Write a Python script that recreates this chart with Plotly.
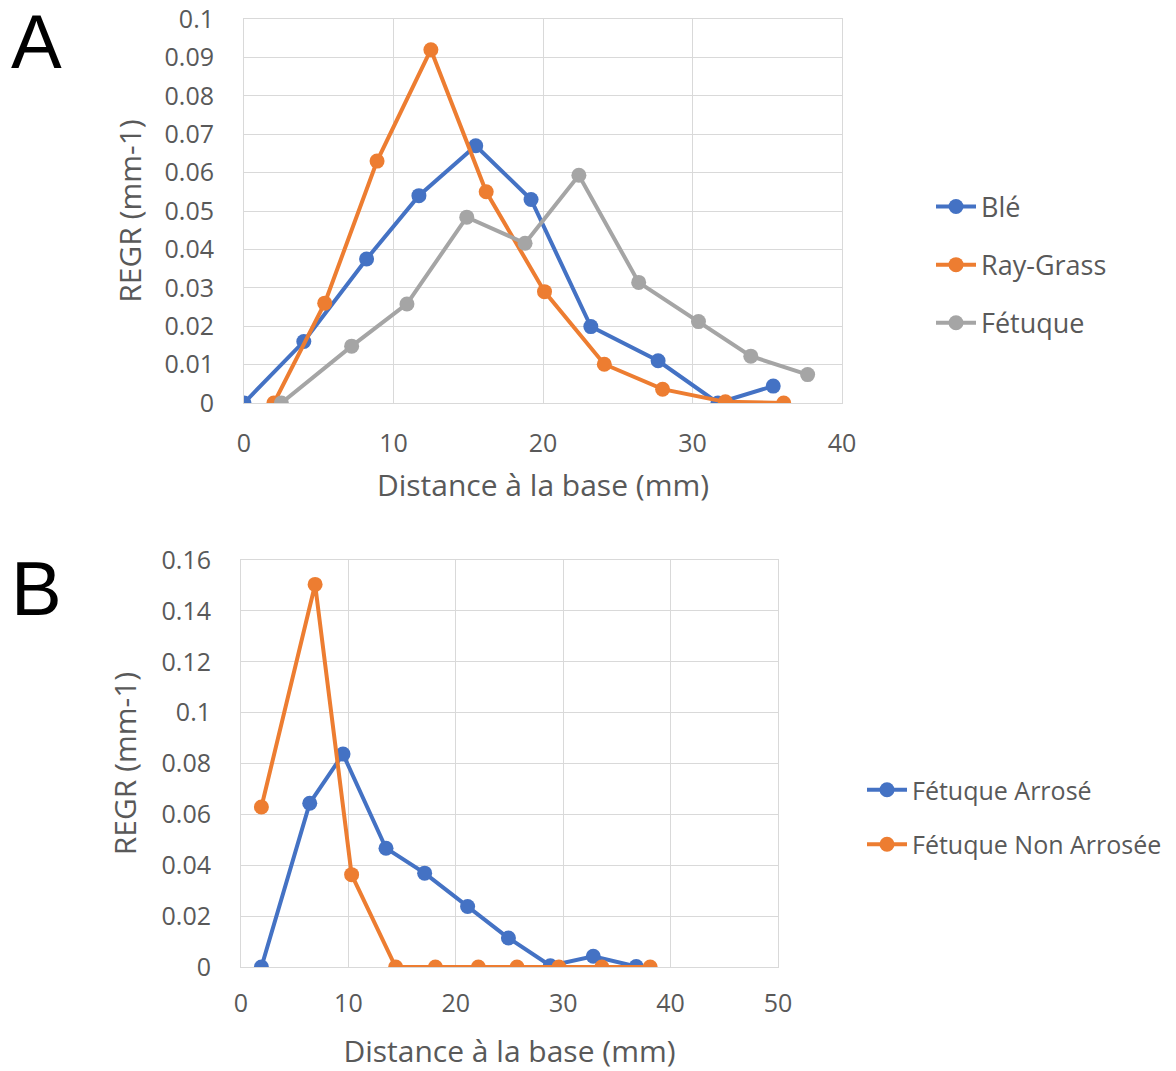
import plotly.graph_objects as go

# ---- Data: panel A ----
ble_x = [0, 4, 8.2, 11.7, 15.5, 19.2, 23.2, 27.7, 31.7, 35.4]
ble_y = [0, 0.016, 0.0375, 0.054, 0.067, 0.053, 0.0199, 0.011, 0, 0.0044]
ray_x = [2.0, 5.4, 8.9, 12.5, 16.2, 20.1, 24.1, 28.0, 32.2, 36.1]
ray_y = [0, 0.026, 0.063, 0.092, 0.055, 0.029, 0.0101, 0.0036, 0.0003, 0]
fet_x = [2.5, 7.2, 10.9, 14.9, 18.8, 22.4, 26.4, 30.4, 33.9, 37.7]
fet_y = [0, 0.0148, 0.0258, 0.0484, 0.0416, 0.0593, 0.0314, 0.0212, 0.0122, 0.0074]

# ---- Data: panel B ----
arr_x = [1.9, 6.4, 9.5, 13.5, 17.1, 21.1, 24.9, 28.8, 32.8, 36.8]
arr_y = [0, 0.0644, 0.0837, 0.0467, 0.0369, 0.0238, 0.0114, 0.0005, 0.0042, 0.0002]
non_x = [1.9, 6.9, 10.3, 14.4, 18.1, 22.1, 25.7, 29.6, 33.6, 38.1]
non_y = [0.0629, 0.1504, 0.0363, 0, 0, 0, 0, 0, 0, 0]

# ---- Tick labels ----
ya_vals = [0, 0.01, 0.02, 0.03, 0.04, 0.05, 0.06, 0.07, 0.08, 0.09, 0.1]
ya_text = ["0", "0.01", "0.02", "0.03", "0.04", "0.05", "0.06", "0.07", "0.08", "0.09", "0.1"]
yb_vals = [0, 0.02, 0.04, 0.06, 0.08, 0.1, 0.12, 0.14, 0.16]
yb_text = ["0", "0.02", "0.04", "0.06", "0.08", "0.1", "0.12", "0.14", "0.16"]

BLUE = "#4472C4"
ORANGE = "#ED7D31"
GRAY = "#A5A5A5"
TXT = "#595959"
GRID = "#D9D9D9"
FONT = "Open Sans"

W, H = 1176, 1071

fig = go.Figure()

def add(x, y, name, color, xa, ya, legend, group):
    fig.add_trace(go.Scatter(
        x=x, y=y, name=name, mode="lines+markers",
        line=dict(color=color, width=4),
        marker=dict(color=color, size=15, line=dict(width=0)),
        xaxis=xa, yaxis=ya, legend=legend, legendgroup=group,
    ))

add(ble_x, ble_y, "Blé", BLUE, "x", "y", "legend", "a1")
add(ray_x, ray_y, "Ray-Grass", ORANGE, "x", "y", "legend", "a2")
add(fet_x, fet_y, "Fétuque", GRAY, "x", "y", "legend", "a3")
add(arr_x, arr_y, "Fétuque Arrosé", BLUE, "x2", "y2", "legend2", "b1")
add(non_x, non_y, "Fétuque Non Arrosée", ORANGE, "x2", "y2", "legend2", "b2")

axis_common = dict(
    showgrid=True, gridcolor=GRID, gridwidth=1,
    showline=True, linecolor=GRID, linewidth=1, mirror=True,
    zeroline=False, ticks="", automargin=False, ticklabeloverflow="allow",
    tickfont=dict(family=FONT, size=25, color=TXT),
    title_font=dict(family=FONT, size=30, color=TXT),
)

fig.update_layout(
    width=W, height=H,
    margin=dict(l=0, r=0, t=0, b=0),
    paper_bgcolor="white", plot_bgcolor="white",
    font=dict(family=FONT, color=TXT),
    xaxis=dict(domain=[244 / W, 842 / W], range=[0, 40], dtick=10, anchor="y",
               ticklabelstandoff=18,
               title=dict(text="Distance à la base (mm)", standoff=16), **axis_common),
    yaxis=dict(domain=[1 - 403 / H, 1 - 19 / H], range=[0, 0.1], anchor="x",
               tickvals=ya_vals, ticktext=ya_text, ticklabelstandoff=24,
               title=dict(text="REGR (mm-1)", standoff=14), **axis_common),
    xaxis2=dict(domain=[241 / W, 778 / W], range=[0, 50], dtick=10, anchor="y2",
                ticklabelstandoff=14,
                title=dict(text="Distance à la base (mm)", standoff=22), **axis_common),
    yaxis2=dict(domain=[1 - 967 / H, 1 - 560 / H], range=[0, 0.16], anchor="x2",
                tickvals=yb_vals, ticktext=yb_text, ticklabelstandoff=24,
                title=dict(text="REGR (mm-1)", standoff=16), **axis_common),
    legend=dict(x=931 / W, y=1 - 265 / H, xanchor="left", yanchor="middle",
                font=dict(family=FONT, size=27, color=TXT),
                tracegroupgap=20, bgcolor="rgba(0,0,0,0)", itemwidth=40),
    legend2=dict(x=862 / W, y=1 - 817 / H, xanchor="left", yanchor="middle",
                 font=dict(family=FONT, size=25, color=TXT),
                 tracegroupgap=19, bgcolor="rgba(0,0,0,0)", itemwidth=40),
    annotations=[
        dict(text="A", x=36 / W, y=1 - 42 / H, xref="paper", yref="paper",
             xanchor="center", yanchor="middle",
             showarrow=False, font=dict(family="Liberation Sans", size=76, color="black")),
        dict(text="B", x=36 / W, y=1 - 588 / H, xref="paper", yref="paper",
             xanchor="center", yanchor="middle",
             showarrow=False, font=dict(family="Liberation Sans", size=76, color="black")),
    ],
)

fig.write_html("out.html")
